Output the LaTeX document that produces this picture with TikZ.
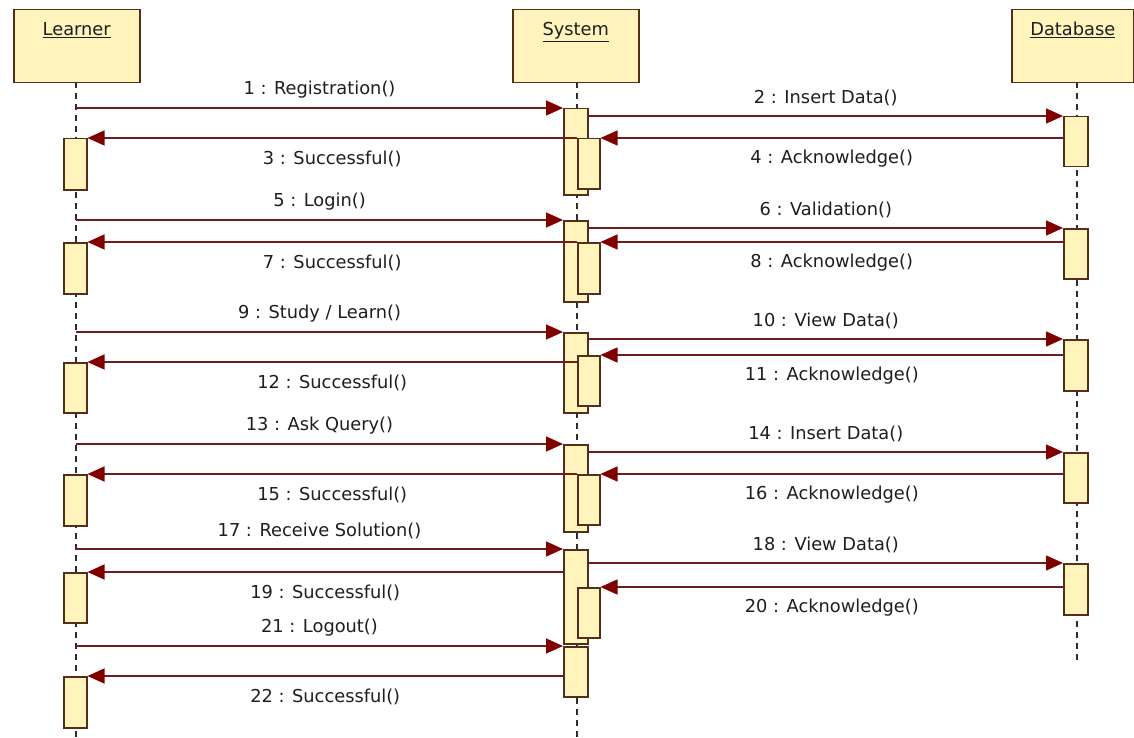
\documentclass[tikz,border=0pt]{standalone}
\usepackage{fontspec}
\setmainfont{DejaVu Sans}
\usetikzlibrary{arrows.meta}
\definecolor{boxfill}{RGB}{255,244,188}
\definecolor{boxline}{RGB}{85,45,25}
\definecolor{msgline}{RGB}{110,28,28}
\definecolor{tipred}{RGB}{128,0,0}
\definecolor{lifegray}{RGB}{45,45,45}
\definecolor{txt}{RGB}{30,30,30}

% activation bar: name, left x, top y, width, height
\newcommand\actv[5]{\node[actbox,minimum width=#4pt,minimum height=#5pt] (#1) at (#2,#3) {};}

\begin{document}
\begin{tikzpicture}[x=1pt,y=-1pt,
  every node/.style={font=\fontsize{17.8}{21}\selectfont, text=txt},
  headbox/.style={draw=boxline, fill=boxfill, line width=1.5pt, minimum width=126pt,
                  minimum height=73pt, inner sep=0pt, anchor=north west},
  actbox/.style={draw=boxline, fill=boxfill, line width=1.5pt, inner sep=0pt, anchor=north west},
  lifeline/.style={draw=lifegray, line width=1.5pt, dash pattern=on 6pt off 5pt},
  msg/.style={draw=msgline, line width=1.5pt, -{Triangle[length=17pt,width=15pt,color=tipred]}},
  lblabove/.style={midway, yshift=18pt},
  lblbelow/.style={midway, yshift=-21pt},
  headtext/.style={anchor=base},
]
\useasboundingbox[fill=white] (0,0) rectangle (1134,738);

% lifeline ends
\coordinate (Ltop) at (76,82);   \coordinate (Lbot) at (76,738);
\coordinate (Stop) at (577,82);  \coordinate (Sbot) at (577,738);
\coordinate (Dtop) at (1077,82); \coordinate (Dbot) at (1077,660);
\draw[lifeline] (Ltop) -- (Lbot);
\draw[lifeline] (Stop) -- (Sbot);
\draw[lifeline] (Dtop) -- (Dbot);

% object heads
\node[headbox] (L) at (13,9) {};
\node[headbox] (S) at (512,9) {};
\node[headbox, minimum width=122pt] (D) at (1011,9) {};
\node[headtext] at ([yshift=-27pt]L.north) {\underline{Learner}};
\node[headtext] at ([yshift=-27pt]S.north) {\underline{System}};
\node[headtext] at ([yshift=-27pt]D.north) {\underline{Database}};

% System activations (outer)
\actv{s1}{563}{108}{24}{86}
\actv{s2}{563}{220}{24}{81}
\actv{s3}{563}{332}{24}{80}
\actv{s4}{563}{444}{24}{87}
\actv{s5}{563}{549}{24}{94}
\actv{s6}{563}{646}{24}{50}
% System activations (nested)
\actv{n1}{577}{138}{22}{50}
\actv{n2}{577}{242}{22}{51}
\actv{n3}{577}{355}{22}{50}
\actv{n4}{577}{474}{22}{50}
\actv{n5}{577}{587}{22}{50}
% Learner activations
\actv{la1}{63}{138}{23}{51}
\actv{la2}{63}{242}{23}{51}
\actv{la3}{63}{362}{23}{50}
\actv{la4}{63}{474}{23}{51}
\actv{la5}{63}{572}{23}{50}
\actv{la6}{63}{676}{23}{51}
% Database activations
\actv{d1}{1063}{116}{24}{50}
\actv{d2}{1063}{228}{24}{50}
\actv{d3}{1063}{339}{24}{51}
\actv{d4}{1063}{452}{24}{50}
\actv{d5}{1063}{563}{24}{51}

% messages
\draw[msg] (Ltop |- s1.north) -- (s1.north west) node[lblabove] {1 : Registration()};
\draw[msg] (s1.east |- d1.north) -- (d1.north west) node[lblabove] {2 : Insert Data()};
\draw[msg] (n1.north west) -- (la1.north east) node[lblbelow] {3 : Successful()};
\draw[msg] (d1.west |- n1.north) -- (n1.north east) node[lblbelow] {4 : Acknowledge()};

\draw[msg] (Ltop |- s2.north) -- (s2.north west) node[lblabove] {5 : Login()};
\draw[msg] (s2.east |- d2.north) -- (d2.north west) node[lblabove] {6 : Validation()};
\draw[msg] (n2.north west) -- (la2.north east) node[lblbelow] {7 : Successful()};
\draw[msg] (d2.west |- n2.north) -- (n2.north east) node[lblbelow] {8 : Acknowledge()};

\draw[msg] (Ltop |- s3.north) -- (s3.north west) node[lblabove] {9 : Study / Learn()};
\draw[msg] (s3.east |- d3.north) -- (d3.north west) node[lblabove] {10 : View Data()};
\draw[msg] (d3.west |- n3.north) -- (n3.north east) node[lblbelow] {11 : Acknowledge()};
\draw[msg] (n3.west |- la3.north) -- (la3.north east) node[lblbelow] {12 : Successful()};

\draw[msg] (Ltop |- s4.north) -- (s4.north west) node[lblabove] {13 : Ask Query()};
\draw[msg] (s4.east |- d4.north) -- (d4.north west) node[lblabove] {14 : Insert Data()};
\draw[msg] (n4.north west) -- (la4.north east) node[lblbelow] {15 : Successful()};
\draw[msg] (d4.west |- n4.north) -- (n4.north east) node[lblbelow] {16 : Acknowledge()};

\draw[msg] (Ltop |- s5.north) -- (s5.north west) node[lblabove] {17 : Receive Solution()};
\draw[msg] (s5.east |- d5.north) -- (d5.north west) node[lblabove] {18 : View Data()};
\draw[msg] (s5.west |- la5.north) -- (la5.north east) node[lblbelow] {19 : Successful()};
\draw[msg] (d5.west |- n5.north) -- (n5.north east) node[lblbelow] {20 : Acknowledge()};

\draw[msg] (Ltop |- s6.north) -- (s6.north west) node[lblabove] {21 : Logout()};
\draw[msg] (s6.west |- la6.north) -- (la6.north east) node[lblbelow] {22 : Successful()};
\end{tikzpicture}
\end{document}
